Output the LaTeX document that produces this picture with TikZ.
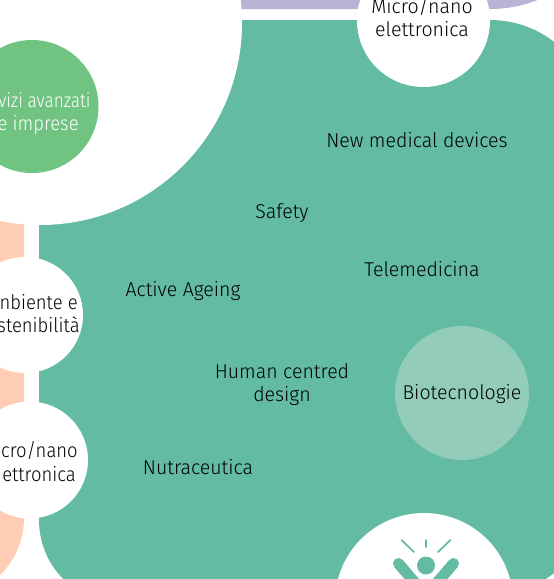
\documentclass[tikz,border=0pt]{standalone}
\usepackage{fontspec}
\setmainfont[FakeStretch=0.975]{Fira Sans Light}
\newfontfamily\slimfont[FakeStretch=0.92]{Fira Sans Light}
\newfontfamily\slimmerfont[FakeStretch=0.86]{Fira Sans Light}
\tikzset{
    topic/.style={text=black, font=\fontsize{11.4}{13}\selectfont, align=center, inner sep=0pt},
    cutleft/.style={text=black, font=\fontsize{11.4}{13}\slimfont, inner sep=0pt, anchor=east},
    spot/.style={fill=white},
    ray/.style={draw=panelgreen, line cap=round}
}
\begin{document}
\begin{tikzpicture}[x=0.2mm, y=-0.2mm]
            % Define colors
            \definecolor{panelgreen}{RGB}{99, 187, 163}
            \definecolor{lightlilac}{RGB}{185, 180, 214}
            \definecolor{lightpeach}{RGB}{255, 205, 181}
            \definecolor{leafgreen}{RGB}{113, 195, 130}
            \definecolor{palegreen}{RGB}{147, 205, 185}

            \useasboundingbox (0, 0) rectangle (554, 579);
            \clip (0, 0) rectangle (554, 579);

            % Draw panels
            \fill[lightlilac] (241, -200) -- (241, 9) [rounded corners=2.6cm] -- (620, 9) -- (620, -200) -- cycle;
            \fill[lightpeach] (-100, 150) -- (24, 150) [rounded corners=1.6cm] -- (24, 598) -- (-100, 598) -- cycle;
            \fill[panelgreen] (39, 20) [rounded corners=2.1cm] -- (595, 20) -- (595, 594) [rounded corners=1.7cm] -- (39, 605) [sharp corners] -- cycle;

            % Draw large circle
            \fill[spot] (40, 23) circle (202);

            % Draw small circles
            \fill[leafgreen] (32, 106.5) circle (66.5);
            \fill[spot] (25, 315) circle (58);
            \fill[spot] (29.5, 460) circle (58.5);
            \fill[spot] (423.5, 20.5) circle (66.5);
            \fill[palegreen] (462, 393) circle (67);
            \fill[spot] (424, 602) circle (89);

            % Draw icon
            \fill[panelgreen] (426, 565.5) circle (9);
            \draw[ray, line width=0.35mm] (426, 540)--(426, 547);
            \draw[ray, line width=0.35mm] (401.5, 540)--(414, 552);
            \draw[ray, line width=0.35mm] (450.5, 540)--(438, 552);
            \draw[ray, line width=2.2mm] (398.5, 563.5)--(417, 585);
            \draw[ray, line width=2.2mm] (453.5, 563.5)--(435, 585);

            % Add text
            \node[topic] (devices) at (417, 140) {New medical devices};
            \node[topic] (safety) at (282, 213) {Safety};
            \node[topic] (telemed) at (422, 269) {Telemedicina};
            \node[topic] (ageing) at (183, 291) {Active Ageing};
            \node[topic] (design) at (282, 385) {Human centred\\design};
            \node[topic] (nutra) at (198, 467) {Nutraceutica};
            \node[topic] (biotech) at (462, 394) {Biotecnologie};
            \node[topic] (micro) at (422, 17) {Micro/nano\\elettronica};

            \node[cutleft, text=white, font=\fontsize{11.4}{13}\slimmerfont] (servizi) at (91, 100) {vizi avanzati};
            \node[cutleft, text=white] (imprese) at (79, 125) {le imprese};
            \node[cutleft] (ambiente) at (78, 302) {nbiente e};
            \node[cutleft] (sosten) at (80, 325) {stenibilità};
            \node[cutleft] (microleft) at (78, 450) {cro/nano};
            \node[cutleft] (elettro) at (76, 474) {ettronica};
        \end{tikzpicture}
\end{document}
